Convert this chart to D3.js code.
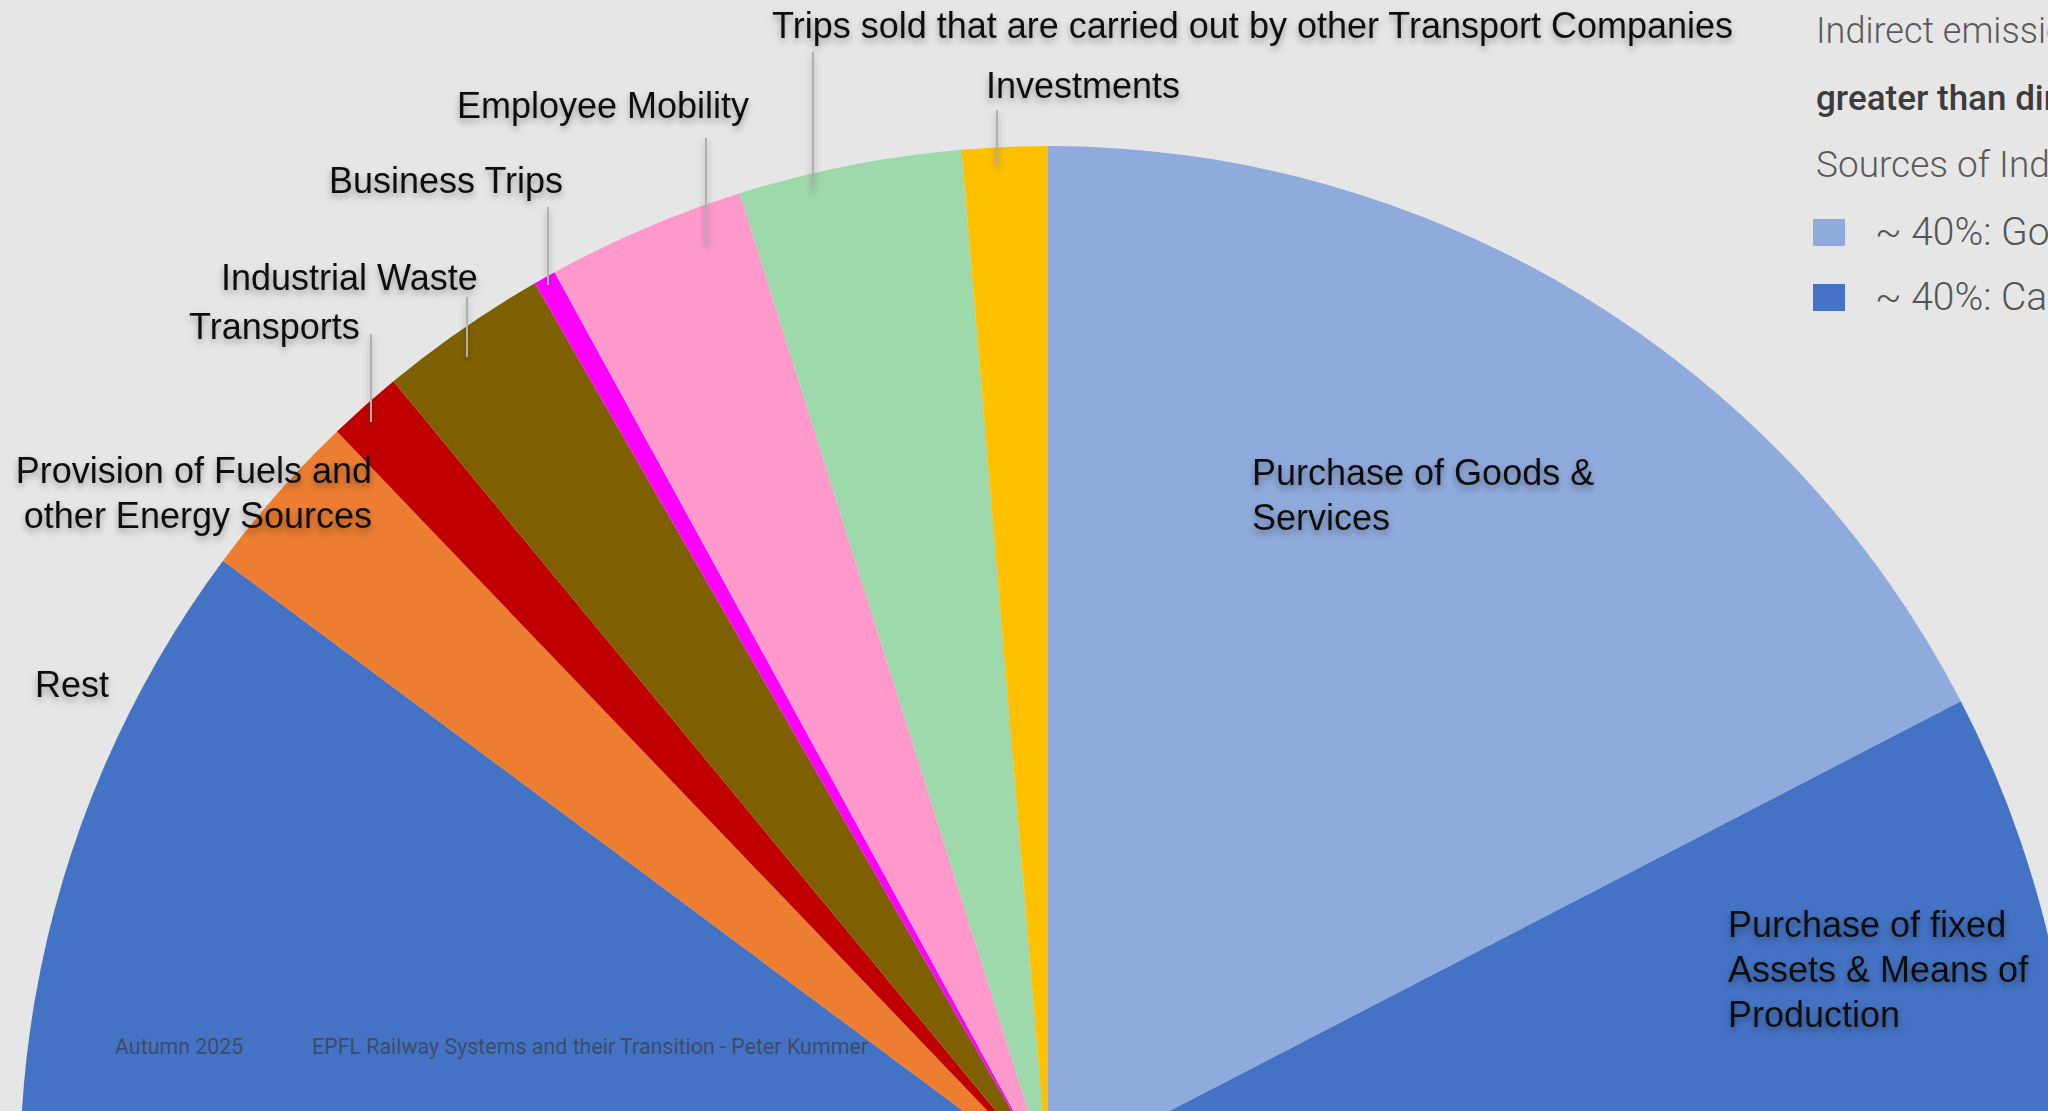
<!DOCTYPE html>
<html>
<head>
<meta charset="utf-8">
<script src="https://cdn.jsdelivr.net/npm/d3@7"></script>
<style>
  html, body { margin: 0; padding: 0; background: #e6e6e6; overflow: hidden; }
  svg { display: block; }
</style>
</head>
<body>
<svg id="chart" width="2048" height="1111"></svg>
<script>
// Shares of indirect (scope 3) emissions, in percent, clockwise from 12 o'clock
const categories = [
  "Purchase of Goods & Services",
  "Purchase of fixed Assets & Means of Production",
  "Rest",
  "Provision of Fuels and other Energy Sources",
  "Transports",
  "Industrial Waste",
  "Business Trips",
  "Employee Mobility",
  "Trips sold that are carried out by other Transport Companies",
  "Investments"
];
const shares = [17.4, 38.0, 29.8, 2.67, 1.17, 2.67, 0.35, 3.12, 3.51, 1.34];
const sliceColors = ["#8faadc", "#4472c4", "#4472c4", "#ed7d31", "#c00000",
                     "#7f6000", "#ff00ff", "#ff99cc", "#9dd9aa", "#ffc000"];

// Legend entries
const legendShares = ["~ 40%: Goods & Services", "~ 40%: Capital Goods"];
const legendColors = ["#8faadc", "#4472c4"];

// Slice labels: text lines, anchor, position, optional leader [x, yTop, yBottom]
const labelLayout = [
  { i: 0, lines: ["Purchase of Goods &", "Services"], x: 1252, y: 485, anchor: "start" },
  { i: 1, lines: ["Purchase of fixed", "Assets & Means of", "Production"], x: 1728, y: 937, anchor: "start" },
  { i: 2, lines: ["Rest"], x: 35, y: 697, anchor: "start" },
  { i: 3, lines: ["Provision of Fuels and", "other Energy Sources"], x: 372, y: 483, anchor: "end" },
  { i: 4, lines: ["Transports"], x: 189, y: 339, anchor: "start", leader: [371, 334, 422] },
  { i: 5, lines: ["Industrial Waste"], x: 221, y: 290, anchor: "start", leader: [467, 297, 357] },
  { i: 6, lines: ["Business Trips"], x: 329, y: 193, anchor: "start", leader: [548, 207, 285] },
  { i: 7, lines: ["Employee Mobility"], x: 457, y: 118, anchor: "start", leader: [706, 138, 245] },
  { i: 8, lines: ["Trips sold that are carried out by other Transport Companies"], x: 772, y: 38, anchor: "start", leader: [813, 52, 190] },
  { i: 9, lines: ["Investments"], x: 986, y: 98, anchor: "start", leader: [997, 110, 165] }
];

const W = 2048, H = 1111;
const cx = 1048, cy = 1174, R = 1028;
const labelFont = "'Liberation Sans', Arial, Helvetica, sans-serif";
const lightFont = "Roboto, 'Liberation Sans', Arial, sans-serif";

const svg = d3.select("#chart");

const defs = svg.append("defs");
const shadow = defs.append("filter").attr("id", "soft-shadow")
  .attr("x", "-20%").attr("y", "-40%").attr("width", "140%").attr("height", "180%");
shadow.append("feDropShadow")
  .attr("dx", 0).attr("dy", 4).attr("stdDeviation", 3.5)
  .attr("flood-color", "#000").attr("flood-opacity", 0.35);

svg.append("rect").attr("width", W).attr("height", H).attr("fill", "#e6e6e6");

// Pie
const pie = d3.pie().sort(null).value(d => d).startAngle(0).endAngle(2 * Math.PI);
const arcs = pie(shares);
const arc = d3.arc().innerRadius(0).outerRadius(R);

const gPie = svg.append("g").attr("transform", `translate(${cx},${cy})`);
gPie.selectAll("path")
  .data(arcs)
  .join("path")
  .attr("d", arc)
  .attr("fill", (d, i) => sliceColors[i]);

// Leader lines
const gLeaders = svg.append("g").attr("filter", "url(#soft-shadow)");
gLeaders.selectAll("line")
  .data(labelLayout.filter(d => d.leader))
  .join("line")
  .attr("x1", d => d.leader[0]).attr("x2", d => d.leader[0])
  .attr("y1", d => d.leader[1]).attr("y2", d => d.leader[2])
  .attr("stroke", "#b0b0b0").attr("stroke-width", 2);

// Labels
const gLabels = svg.append("g").attr("filter", "url(#soft-shadow)");
labelLayout.forEach(l => {
  const t = gLabels.append("text")
    .attr("x", l.x).attr("y", l.y)
    .attr("text-anchor", l.anchor)
    .attr("font-family", labelFont)
    .attr("font-size", 36)
    .attr("fill", "#111");
  l.lines.forEach((line, k) => {
    t.append("tspan").attr("x", l.x).attr("dy", k === 0 ? 0 : 45).text(line);
  });
});

// Legend panel (runs off the right edge)
const gLegend = svg.append("g").attr("font-family", lightFont);
gLegend.append("text").attr("x", 1816).attr("y", 43).attr("font-size", 36)
  .attr("font-weight", 300).attr("fill", "#5a5a5a")
  .text("Indirect emissions (Scope 3) are much");
gLegend.append("text").attr("x", 1816).attr("y", 110).attr("font-size", 35)
  .attr("font-weight", 500).attr("fill", "#3c3c3c")
  .text("greater than direct emissions");
gLegend.append("text").attr("x", 1816).attr("y", 177).attr("font-size", 37)
  .attr("font-weight", 300).attr("fill", "#5a5a5a")
  .text("Sources of Indirect Emissions:");

const legendRows = gLegend.selectAll("g.row")
  .data(legendShares)
  .join("g").attr("class", "row")
  .attr("transform", (d, i) => `translate(0, ${i * 65})`);
legendRows.append("rect")
  .attr("x", 1813).attr("y", 219).attr("width", 32).attr("height", 27)
  .attr("fill", (d, i) => legendColors[i]);
legendRows.append("text")
  .attr("x", 1875).attr("y", 245).attr("font-size", 39)
  .attr("font-weight", 300).attr("fill", "#555")
  .text(d => d);

// Footer
const gFooter = svg.append("g").attr("font-family", lightFont)
  .attr("font-size", 21.4).attr("fill", "#3a3f4a").attr("fill-opacity", 0.75);
gFooter.append("text").attr("x", 115).attr("y", 1054).text("Autumn 2025");
gFooter.append("text").attr("x", 312).attr("y", 1054)
  .text("EPFL Railway Systems and their Transition - Peter Kummer");
</script>
</body>
</html>
